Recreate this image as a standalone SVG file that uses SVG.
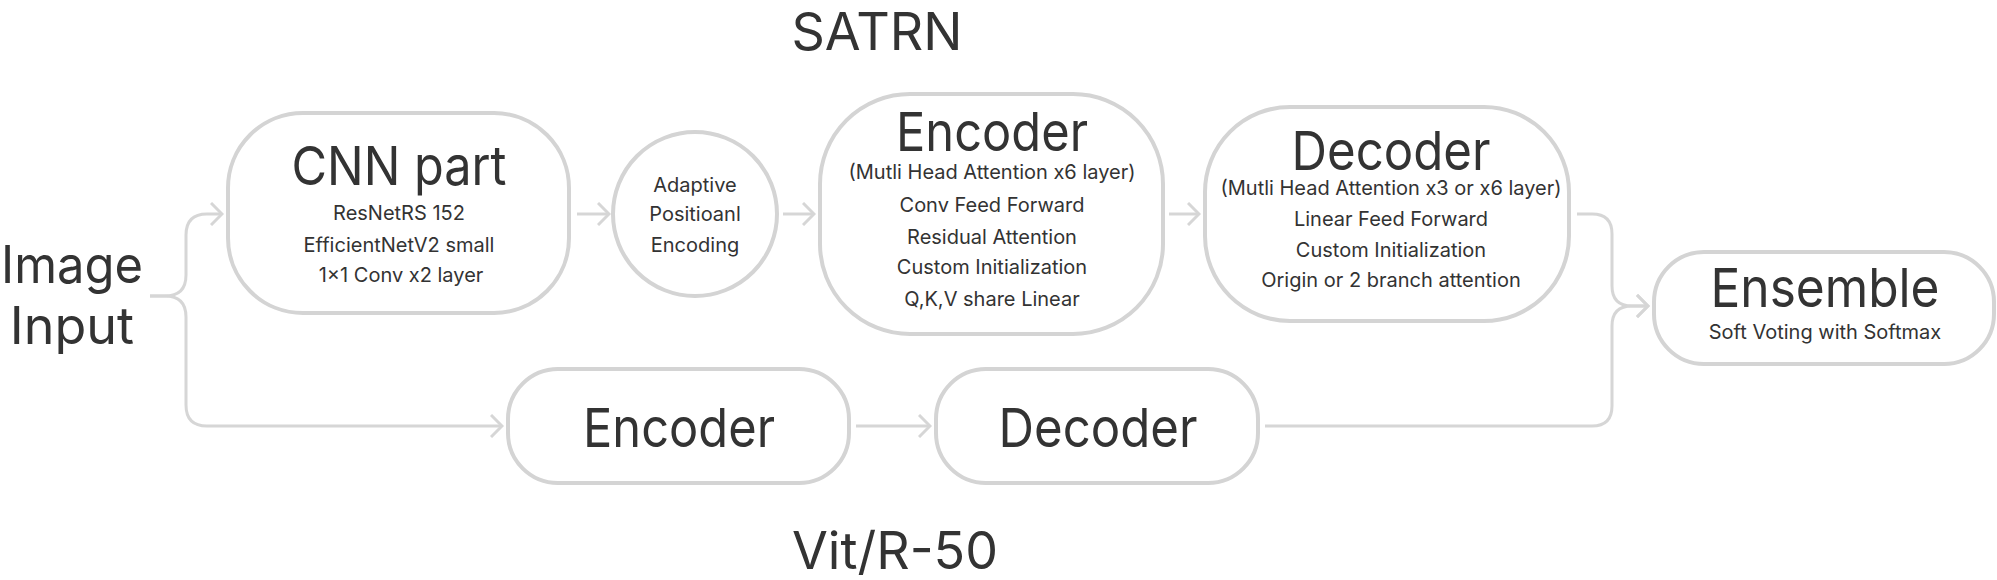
<svg xmlns="http://www.w3.org/2000/svg" width="1997" height="580" viewBox="0 0 1997 580">
<style>
.node{fill:#fff;stroke:#d4d4d4;stroke-width:4}
.conn{fill:none;stroke:#d6d6d6;stroke-width:3}
text{font-family:Inter,"Liberation Sans",sans-serif;fill:#333;text-anchor:middle}
.big{font-size:54px}
.sub{font-size:20px}
.lbl{font-size:52px}
</style>
<defs>
<marker id="arr" markerWidth="14" markerHeight="24" refX="12" refY="12" orient="auto" markerUnits="userSpaceOnUse">
<polyline points="1,1 12,12 1,23" fill="none" stroke="#d6d6d6" stroke-width="3"/>
</marker>
</defs>
<rect width="1997" height="580" fill="#fff"/>
<text class="lbl" x="877" y="50">SATRN</text>
<text class="lbl" x="895" y="569">Vit/R-50</text>
<g id="image-input">
<text class="lbl" x="72" y="283" textLength="142" lengthAdjust="spacingAndGlyphs">Image</text>
<text class="lbl" x="72" y="344">Input</text>
</g>
<g id="connectors">
<path class="conn" d="M150,296 H165 Q186,296 186,275 V235 Q186,214 207,214 H222" marker-end="url(#arr)"/>
<path class="conn" d="M150,296 H165 Q186,296 186,317 V405 Q186,426 207,426 H502" marker-end="url(#arr)"/>
<path class="conn" d="M577,214 H609" marker-end="url(#arr)"/>
<path class="conn" d="M783,214 H814" marker-end="url(#arr)"/>
<path class="conn" d="M1169,214 H1199" marker-end="url(#arr)"/>
<path class="conn" d="M856,426 H930" marker-end="url(#arr)"/>
<path class="conn" d="M1577,214 H1592 Q1612,214 1612,234 V286 Q1612,306 1632,306 H1648" marker-end="url(#arr)"/>
<path class="conn" d="M1265,426 H1592 Q1612,426 1612,406 V326 Q1612,306 1632,306 H1648" marker-end="url(#arr)"/>
</g>
<g id="cnn-part">
<rect class="node" x="228" y="113" width="341" height="200" rx="75"/>
<text class="big" x="399" y="185" textLength="215" lengthAdjust="spacingAndGlyphs">CNN part</text>
<text class="sub" x="399" y="220">ResNetRS 152</text>
<text class="sub" x="399" y="252">EfficientNetV2 small</text>
<text class="sub" x="401" y="282">1×1 Conv x2 layer</text>
</g>
<g id="adaptive-pe">
<circle class="node" cx="695" cy="214" r="82"/>
<text class="sub" x="695" y="192">Adaptive</text>
<text class="sub" x="695" y="221">Positioanl</text>
<text class="sub" x="695" y="252">Encoding</text>
</g>
<g id="satrn-encoder">
<rect class="node" x="820" y="94" width="343" height="240" rx="90"/>
<text class="big" x="992" y="151" textLength="192" lengthAdjust="spacingAndGlyphs">Encoder</text>
<text class="sub" x="992" y="179">(Mutli Head Attention x6 layer)</text>
<text class="sub" x="992" y="212">Conv Feed Forward</text>
<text class="sub" x="992" y="244">Residual Attention</text>
<text class="sub" x="992" y="274">Custom Initialization</text>
<text class="sub" x="992" y="306">Q,K,V share Linear</text>
</g>
<g id="satrn-decoder">
<rect class="node" x="1205" y="107" width="364" height="214" rx="85"/>
<text class="big" x="1391" y="170" textLength="199" lengthAdjust="spacingAndGlyphs">Decoder</text>
<text class="sub" x="1391" y="195">(Mutli Head Attention x3 or x6 layer)</text>
<text class="sub" x="1391" y="226">Linear Feed Forward</text>
<text class="sub" x="1391" y="257">Custom Initialization</text>
<text class="sub" x="1391" y="287">Origin or 2 branch attention</text>
</g>
<g id="ensemble">
<rect class="node" x="1654" y="252" width="340" height="112" rx="50"/>
<text class="big" x="1825" y="307" textLength="229" lengthAdjust="spacingAndGlyphs">Ensemble</text>
<text class="sub" x="1825" y="339">Soft Voting with Softmax</text>
</g>
<g id="vit-encoder">
<rect class="node" x="508" y="369" width="341" height="114" rx="50"/>
<text class="big" x="679" y="447" textLength="192" lengthAdjust="spacingAndGlyphs">Encoder</text>
</g>
<g id="vit-decoder">
<rect class="node" x="936" y="369" width="322" height="114" rx="50"/>
<text class="big" x="1098" y="447" textLength="199" lengthAdjust="spacingAndGlyphs">Decoder</text>
</g>
</svg>
